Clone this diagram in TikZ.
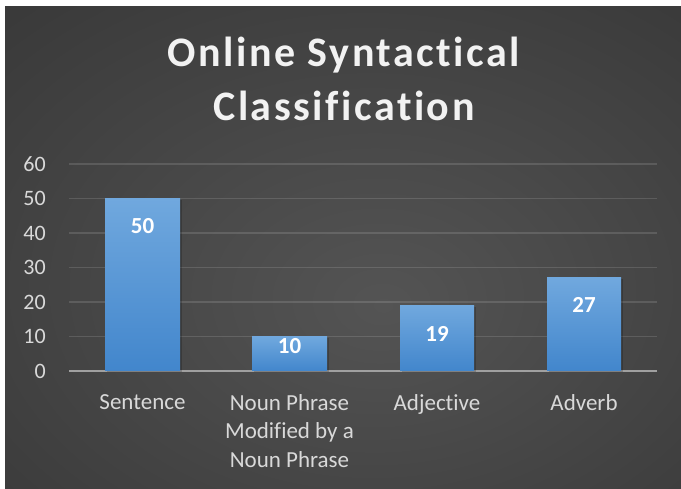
\documentclass[tikz,border=0pt]{standalone}
\usepackage{fontspec}
\setmainfont{Carlito}[Ligatures=NoCommon]
\newfontfamily\titlefont[LetterSpace=6,Ligatures=NoCommon]{Carlito}
\definecolor{bgin}{RGB}{84,84,84}
\definecolor{bgout}{RGB}{34,34,34}
\definecolor{lbl}{RGB}{217,217,217}
\definecolor{bartop}{RGB}{112,168,222}
\definecolor{barbot}{RGB}{66,134,204}
\definecolor{axisc}{RGB}{160,160,160}
\pgfdeclareradialshading{bgshade}{\pgfpoint{3bp}{-6bp}}{color(0bp)=(bgin); color(72bp)=(bgout)}
\begin{document}
\begin{tikzpicture}[x=1pt,y=-1pt,
  tick/.style={text=lbl, font=\fontsize{22}{26}\selectfont, anchor=east, inner sep=0pt},
  cat/.style={text=lbl, font=\fontsize{23}{28.5}\selectfont, align=center, anchor=north, inner sep=0pt},
  val/.style={text=white, font=\bfseries\fontsize{23}{26}\selectfont, inner sep=0pt},
  gridline/.style={draw=white, draw opacity=0.13, line width=1.4pt},
  axisline/.style={draw=axisc, line width=2.2pt},
  barbox/.style={top color=bartop, bottom color=barbot},
  barshadow/.style={fill=black, fill opacity=0.2},
  titletext/.style={text=white!95!black, font=\titlefont\bfseries\fontsize{42}{50}\selectfont, inner sep=0pt, anchor=base}
]
\useasboundingbox (0,0) rectangle (681,489);
\fill[white] (0,0) rectangle (681,489);
\shade[shading=bgshade] (5,7) rectangle (681,489);

% title
\node[titletext] (title1) at (344,67) {Online Syntactical};
\node[titletext] (title2) at (344,121) {Classification};

% grid
\foreach \v/\y in {10/336.5,20/302,30/267.5,40/233,50/198.5,60/164}{
  \coordinate (gl\v) at (69,\y);
  \coordinate (gr\v) at (657,\y);
  \draw[gridline] (gl\v) -- (gr\v);
}
\coordinate (al) at (69,371);
\coordinate (ar) at (657,371);
\draw[axisline] (al) -- (ar);

% tick labels
\foreach \v/\y in {0/371,10/336.5,20/302,30/267.5,40/233,50/198.5,60/164}{
  \node[tick] (t\v) at (46,\y) {\v};
}

% bars
\fill[barshadow] (106.5,200) rectangle (181.5,372);
\fill[barshadow] (253.5,338) rectangle (328.5,372);
\fill[barshadow] (401.5,307.5) rectangle (475.5,372);
\fill[barshadow] (548.5,279.5) rectangle (622.5,372);
\shade[barbox] (105,198.5) rectangle (180,371);
\shade[barbox] (252,336.5) rectangle (327,371);
\shade[barbox] (400,306) rectangle (474,371);
\shade[barbox] (547,278) rectangle (621,371);

% value labels
\node[val] (v1) at (142.5,226.5) {50};
\node[val] (v2) at (289.5,346) {10};
\node[val] (v3) at (437,333.5) {19};
\node[val] (v4) at (584,305) {27};

% category labels
\node[cat] (c1) at (142.5,394) {Sentence};
\node[cat] (c2) at (289.5,394) {Noun Phrase\\Modified by a\\Noun Phrase};
\node[cat] (c3) at (437,394) {Adjective};
\node[cat] (c4) at (584,394) {Adverb};
\end{tikzpicture}
\end{document}
